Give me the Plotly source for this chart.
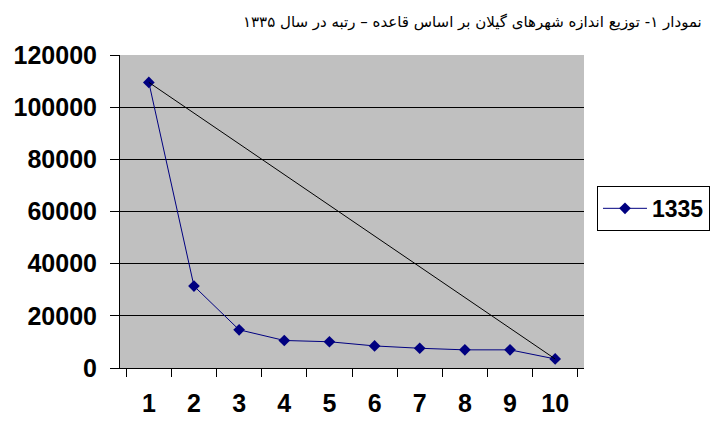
import plotly.graph_objects as go

# Rank of each city and its population in 1335
ranks = ["1", "2", "3", "4", "5", "6", "7", "8", "9", "10"]
population_1335 = [109500, 31400, 14650, 10550, 10060, 8460, 7570, 6960, 6960, 3470]
series_name = "1335"
title_text = "نمودار ۱- توزیع اندازه شهرهای گیلان بر اساس قاعده – رتبه در سال ۱۳۳۵"
y_ticks = [0, 20000, 40000, 60000, 80000, 100000, 120000]

fig = go.Figure()

# Main series
fig.add_trace(go.Scatter(
    x=ranks,
    y=population_1335,
    mode="lines+markers",
    name=series_name,
    line=dict(color="#000080", width=1),
    marker=dict(symbol="diamond", size=9, color="#000080"),
))

# Reference line joining the first and last ranked cities
fig.add_trace(go.Scatter(
    x=[ranks[0], ranks[-1]],
    y=[population_1335[0], population_1335[-1]],
    mode="lines",
    line=dict(color="black", width=1),
    showlegend=False,
    hoverinfo="skip",
))

fig.update_layout(
    width=722,
    height=429,
    margin=dict(l=120, r=137, t=55, b=52),
    paper_bgcolor="white",
    plot_bgcolor="#C0C0C0",
    font=dict(family="Liberation Sans, Arial", color="black"),
    showlegend=True,
    legend=dict(
        x=1.028, y=0.51, xanchor="left", yanchor="middle",
        bordercolor="black", borderwidth=1, bgcolor="white",
        font=dict(size=23, family="Liberation Sans, Arial", weight="bold"),
        itemwidth=44,
    ),
    annotations=[dict(
        text=title_text,
        xref="paper", yref="paper",
        x=1.258, y=1.0, xanchor="right", yanchor="bottom",
        yshift=22,
        showarrow=False,
        font=dict(size=15, family="DejaVu Sans", color="black"),
    )],
)

fig.update_xaxes(
    type="category",
    categoryorder="array",
    categoryarray=ranks,
    tickson="boundaries",
    ticks="outside",
    ticklen=8,
    tickcolor="black",
    showline=True,
    linecolor="black",
    linewidth=1,
    showgrid=False,
    ticklabelstandoff=13,
    tickfont=dict(size=25, family="Liberation Sans, Arial", weight="bold"),
)

fig.update_yaxes(
    range=[0, 120000],
    tickvals=y_ticks,
    ticktext=[str(v) for v in y_ticks],
    ticks="outside",
    ticklen=9,
    tickcolor="black",
    showline=True,
    linecolor="black",
    linewidth=1,
    showgrid=True,
    gridcolor="black",
    gridwidth=1,
    zeroline=False,
    ticklabelstandoff=8,
    tickfont=dict(size=25, family="Liberation Sans, Arial", weight="bold"),
)

fig.write_html("out.html")
